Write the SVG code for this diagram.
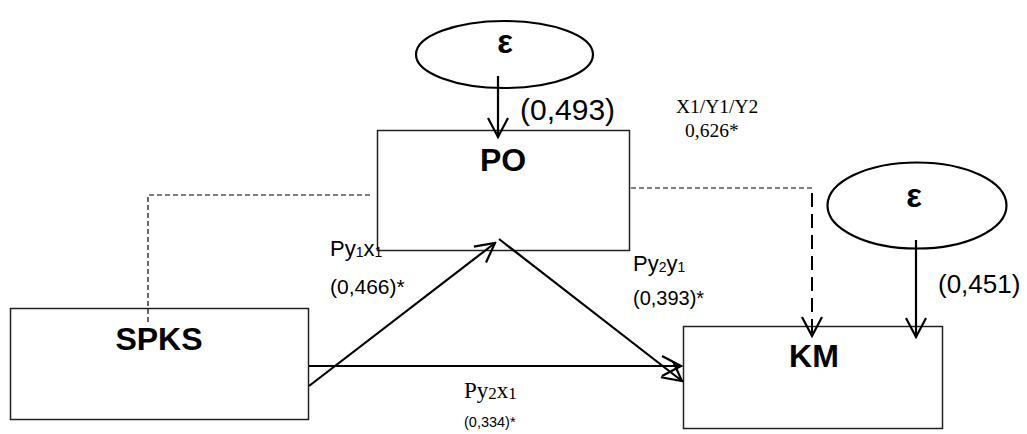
<svg xmlns="http://www.w3.org/2000/svg" width="1027" height="434" viewBox="0 0 1027 434">
  <style>
    .box { fill: none; stroke: #222; stroke-width: 1.5; }
    .err { fill: #fff; stroke: #000; stroke-width: 2.2; }
    .name { font-family: "Liberation Sans", Arial, sans-serif; font-weight: bold; font-size: 32px; text-anchor: middle; fill: #000; }
    .eps { font-family: "Liberation Sans", Arial, sans-serif; font-weight: bold; font-size: 33px; text-anchor: middle; fill: #000; }
    .sans { font-family: "Liberation Sans", Arial, sans-serif; fill: #000; }
    .serif { font-family: "Liberation Serif", "Times New Roman", serif; fill: #000; }
    .path { fill: none; stroke: #000; stroke-width: 2.2; }
    .dash { fill: none; stroke: #000; stroke-width: 1.2; stroke-dasharray: 5 3; }
    .dashbold { fill: none; stroke: #000; stroke-width: 2; stroke-dasharray: 14 7; }
  </style>
  <defs>
    <marker id="open" markerUnits="userSpaceOnUse" viewBox="-22 -13 24 26" refX="0" refY="0" markerWidth="24" markerHeight="26" orient="auto">
      <path d="M-19,-10 L0,0 L-19,10" fill="none" stroke="#000" stroke-width="2.2"/>
    </marker>
  </defs>

  <!-- error terms -->
  <g id="error-po">
    <ellipse class="err" cx="504.5" cy="54.5" rx="88.5" ry="33.5"/>
    <text class="eps" x="505" y="53">ε</text>
  </g>
  <g id="error-km">
    <ellipse class="err" cx="917" cy="205.5" rx="89.5" ry="43"/>
    <text class="eps" x="914" y="207">ε</text>
  </g>

  <!-- variables -->
  <g id="node-po">
    <rect class="box" x="377.5" y="130.5" width="252" height="120"/>
    <text class="name" x="503" y="171">PO</text>
  </g>
  <g id="node-spks">
    <rect class="box" x="10.5" y="308.5" width="298" height="111"/>
    <text class="name" x="159" y="350">SPKS</text>
  </g>
  <g id="node-km">
    <rect class="box" x="683.5" y="326.5" width="259" height="102"/>
    <text class="name" x="814" y="367">KM</text>
  </g>

  <!-- connectors -->
  <g id="connectors">
    <line class="path" x1="498" y1="76" x2="498" y2="137" marker-end="url(#open)"/>
    <line class="path" x1="916" y1="240" x2="916" y2="337" marker-end="url(#open)"/>
    <line class="path" x1="309" y1="386" x2="495" y2="243" marker-end="url(#open)"/>
    <line class="path" x1="499" y1="239" x2="682" y2="381" marker-end="url(#open)"/>
    <line class="path" x1="309" y1="366" x2="681" y2="366" marker-end="url(#open)"/>
    <polyline class="dash" points="370,195 148,195 148,322"/>
    <line class="dash" x1="631" y1="188" x2="812" y2="188"/>
    <line class="dashbold" x1="812" y1="193" x2="812" y2="336" marker-end="url(#open)"/>
  </g>

  <!-- coefficients -->
  <g id="labels">
    <text class="sans" x="520" y="120" font-size="30">(0,493)</text>
    <text class="sans" x="938" y="293" font-size="26">(0,451)</text>
    <text class="serif" x="676" y="113" font-size="19.5">X1/Y1/Y2</text>
    <text class="serif" x="685" y="137" font-size="19.5">0,626*</text>

    <text class="sans" x="330" y="256" font-size="22">Py<tspan font-size="14" dy="1">1</tspan><tspan dy="-1">x</tspan><tspan font-size="14" dy="1">1</tspan></text>
    <text class="sans" x="330" y="294" font-size="21">(0,466)*</text>

    <text class="sans" x="633" y="271" font-size="22">Py<tspan font-size="14" dy="1">2</tspan><tspan dy="-1">y</tspan><tspan font-size="14" dy="1">1</tspan></text>
    <text class="sans" x="633" y="305" font-size="20">(0,393)*</text>

    <text class="serif" x="464" y="398" font-size="23">Py<tspan font-size="17" dy="1">2</tspan><tspan dy="-1">x</tspan><tspan font-size="17" dy="1">1</tspan></text>
    <text class="sans" x="464" y="427" font-size="14.5">(0,334)*</text>
  </g>
</svg>
